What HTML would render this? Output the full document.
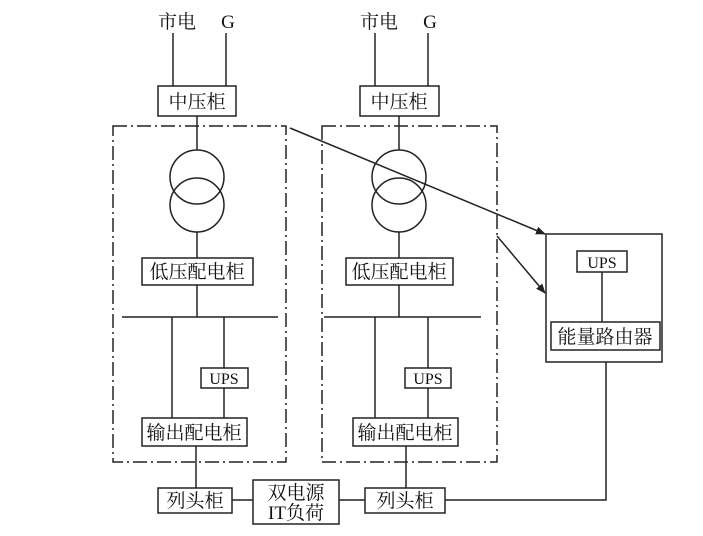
<!DOCTYPE html>
<html><head><meta charset="utf-8"><style>
body{margin:0;background:#fff}
svg text{font-family:"Liberation Serif","Noto Serif CJK SC",serif;fill:#111}
</style></head><body>
<svg width="703" height="531" viewBox="0 0 703 531" xmlns="http://www.w3.org/2000/svg">
<defs><marker id="a" markerWidth="10" markerHeight="8" refX="9" refY="4" orient="auto" markerUnits="userSpaceOnUse"><path d="M0,0 L10,4 L0,8 z" fill="#222"/></marker></defs>
<g stroke="#222" stroke-width="1.5" fill="none">
<line x1="173" y1="33" x2="173" y2="86"/><line x1="226" y1="33" x2="226" y2="86"/>
<rect x="158" y="86" width="78" height="30"/>
<rect x="113" y="126" width="173" height="336" stroke-dasharray="14,4,2,4"/>
<line x1="197" y1="116" x2="197" y2="150"/>
<circle cx="197" cy="177" r="27"/><circle cx="197" cy="205" r="27"/>
<line x1="197" y1="232" x2="197" y2="258"/>
<rect x="142" y="258" width="111" height="27"/>
<line x1="197" y1="285" x2="197" y2="317"/>
<line x1="122" y1="317" x2="278" y2="317"/>
<line x1="172" y1="317" x2="172" y2="418"/><line x1="224" y1="317" x2="224" y2="368"/>
<rect x="201" y="368" width="47" height="20"/>
<line x1="224" y1="388" x2="224" y2="418"/>
<rect x="142" y="418" width="105" height="28"/>
<line x1="196" y1="446" x2="196" y2="488"/>
<rect x="158" y="488" width="74" height="25"/>
<line x1="232" y1="500" x2="253" y2="500"/>
<rect x="253" y="480" width="86" height="44"/>
<line x1="339" y1="500" x2="365" y2="500"/>
<line x1="375" y1="33" x2="375" y2="86"/><line x1="428" y1="33" x2="428" y2="86"/>
<rect x="360" y="86" width="79" height="30"/>
<rect x="322" y="126" width="175" height="336" stroke-dasharray="14,4,2,4"/>
<line x1="399" y1="116" x2="399" y2="150"/>
<circle cx="399" cy="177" r="27"/><circle cx="399" cy="205" r="27"/>
<line x1="399" y1="232" x2="399" y2="258"/>
<rect x="346" y="258" width="107" height="27"/>
<line x1="399" y1="285" x2="399" y2="317"/>
<line x1="324" y1="317" x2="481" y2="317"/>
<line x1="375" y1="317" x2="375" y2="418"/><line x1="428" y1="317" x2="428" y2="368"/>
<rect x="405" y="368" width="46" height="20"/>
<line x1="428" y1="388" x2="428" y2="418"/>
<rect x="353" y="418" width="105" height="28"/>
<line x1="406" y1="446" x2="406" y2="488"/>
<rect x="365" y="488" width="80" height="25"/>
<polyline points="445,500 606,500 606,362"/>
<rect x="546" y="234" width="116" height="128"/>
<rect x="577" y="251" width="50" height="21"/>
<line x1="602" y1="272" x2="602" y2="322"/>
<rect x="551" y="322" width="109" height="28"/>
<line x1="290" y1="128" x2="545" y2="234" marker-end="url(#a)"/>
<line x1="497" y1="236" x2="545" y2="293" marker-end="url(#a)"/>
</g>
<g font-size="19" text-anchor="middle">
<text x="177" y="28">市电</text><text x="228" y="28">G</text>
<text x="379" y="28">市电</text><text x="430" y="28">G</text>
<text x="197" y="108">中压柜</text><text x="399" y="108">中压柜</text>
<text x="197" y="278">低压配电柜</text><text x="399" y="278">低压配电柜</text>
<text x="224" y="384" font-size="16">UPS</text><text x="428" y="384" font-size="16">UPS</text>
<text x="194" y="439">输出配电柜</text><text x="405" y="439">输出配电柜</text>
<text x="195" y="507">列头柜</text><text x="405" y="507">列头柜</text>
<text x="296" y="499">双电源</text><text x="296" y="519">IT负荷</text>
<text x="602" y="268" font-size="16">UPS</text>
<text x="605" y="343">能量路由器</text>
</g>
</svg>
</body></html>
